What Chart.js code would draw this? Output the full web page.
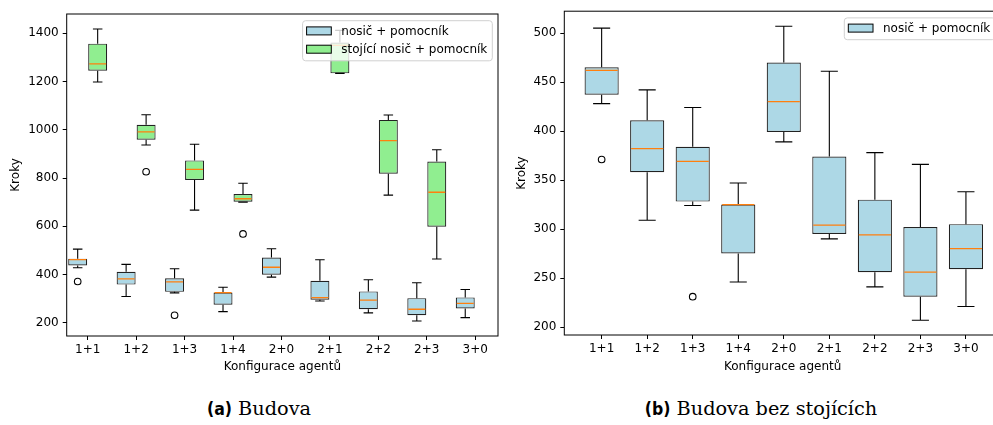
<!DOCTYPE html>
<html>
<head>
<meta charset="utf-8">
<title>Budova – krabicové grafy</title>
<script src="https://cdn.jsdelivr.net/npm/chart.js@4.4.0/dist/chart.umd.min.js"></script>
<style>
    body { margin: 0; width: 993px; height: 425px; overflow: hidden; background: #fff; position: relative; }
    canvas { position: absolute; top: 0; }
    #chartLeft { left: 0; }
    #chartRight { left: 500px; }
    .caption { position: absolute; top: 397px; line-height: 24px; transform: translateX(-50%);
               font-family: "DejaVu Serif", serif; font-size: 19.3px; white-space: nowrap; color: #000; }
    .caption b { font-family: "DejaVu Sans Condensed", "DejaVu Sans", sans-serif; font-size: 17.5px; }
</style>
</head>
<body>
<canvas id="chartLeft" width="510" height="380"></canvas>
<canvas id="chartRight" width="520" height="380"></canvas>
<div class="caption" style="left:259px"><b>(a)</b> Budova</div>
<div class="caption" style="left:761px"><b>(b)</b> Budova bez stojících</div>

<script>
var categories = ['1+1', '1+2', '1+3', '1+4', '2+0', '2+1', '2+2', '2+3', '3+0'];

// nosič + pomocník
var carrierLow      = [428, 309, 324, 246, 389, 290, 241, 207, 221];
var carrierQ1       = [437, 358, 328, 275, 399, 295, 256, 231, 259];
var carrierMedian   = [462, 382, 369, 325, 430, 304, 294, 256, 280];
var carrierQ3       = [465, 411, 384, 325, 470, 374, 330, 302, 305];
var carrierHigh     = [505, 442, 424, 347, 507, 461, 378, 366, 338];
var carrierOutliers = [[371], [], [231], [], [], [], [], [], []];

// stojící nosič + pomocník (no standing carrier with 0 helpers)
var standingLow      = [1198, 937, 667, 700, null, 1234, 729, 464, null];
var standingQ1       = [1245, 959, 792, 702, null, 1234, 818, 598, null];
var standingMedian   = [1273, 991, 836, 714, null, 1350, 955, 741, null];
var standingQ3       = [1357, 1021, 873, 734, null, 1362, 1041, 868, null];
var standingHigh     = [1418, 1062, 940, 778, null, 1412, 1061, 917, null];
var standingOutliers = [[], [826], [], [568], [], [], [], [], []];

var leftTicks = [200, 400, 600, 800, 1000, 1200, 1400];
var rightTicks = [200, 250, 300, 350, 400, 450, 500];

Chart.defaults.font.family = '"DejaVu Sans", sans-serif';
Chart.defaults.font.size = 12;
Chart.defaults.color = '#000';

var carrier = {
    label: 'nosič + pomocník', color: '#add8e6',
    low: carrierLow, q1: carrierQ1, median: carrierMedian, q3: carrierQ3, high: carrierHigh, outliers: carrierOutliers
};
var standing = {
    label: 'stojící nosič + pomocník', color: '#90ee90',
    low: standingLow, q1: standingQ1, median: standingMedian, q3: standingQ3, high: standingHigh, outliers: standingOutliers
};

// whiskers, medians and fliers on top of the floating bars
var whiskerPlugin = {
    id: 'whiskers',
    afterDatasetsDraw: function (chart) {
        var ctx = chart.ctx, y = chart.scales.y, area = chart.chartArea;
        ctx.save();
        ctx.beginPath();
        ctx.rect(area.left, area.top, area.right - area.left, area.bottom - area.top);
        ctx.clip();
        chart.data.datasets.forEach(function (ds, di) {
            var s = ds.stats;
            chart.getDatasetMeta(di).data.forEach(function (bar, j) {
                if (s.median[j] == null) return;
                var x = bar.x, half = bar.width / 2, cap = half / 2;
                ctx.strokeStyle = '#000';
                ctx.lineWidth = 1.1;
                ctx.beginPath();
                ctx.moveTo(x, y.getPixelForValue(s.q3[j]));
                ctx.lineTo(x, y.getPixelForValue(s.high[j]));
                ctx.moveTo(x - cap, y.getPixelForValue(s.high[j]));
                ctx.lineTo(x + cap, y.getPixelForValue(s.high[j]));
                ctx.moveTo(x, y.getPixelForValue(s.q1[j]));
                ctx.lineTo(x, y.getPixelForValue(s.low[j]));
                ctx.moveTo(x - cap, y.getPixelForValue(s.low[j]));
                ctx.lineTo(x + cap, y.getPixelForValue(s.low[j]));
                ctx.stroke();

                ctx.strokeStyle = '#ff7f0e';
                ctx.lineWidth = 1.3;
                ctx.beginPath();
                ctx.moveTo(x - half + 1, y.getPixelForValue(s.median[j]));
                ctx.lineTo(x + half - 1, y.getPixelForValue(s.median[j]));
                ctx.stroke();

                ctx.strokeStyle = '#000';
                ctx.lineWidth = 1.1;
                s.outliers[j].forEach(function (v) {
                    ctx.beginPath();
                    ctx.arc(x, y.getPixelForValue(v), 3.3, 0, Math.PI * 2);
                    ctx.stroke();
                });
            });
        });
        ctx.restore();

        // axes frame
        ctx.save();
        ctx.strokeStyle = '#000';
        ctx.lineWidth = 1;
        ctx.strokeRect(area.left, area.top, area.right - area.left, area.bottom - area.top);
        ctx.restore();
    }
};

// matplotlib-like legend in the upper right corner
var boxLegendPlugin = {
    id: 'boxLegend',
    afterDraw: function (chart) {
        var ctx = chart.ctx, area = chart.chartArea;
        var sets = chart.data.datasets;
        ctx.save();
        ctx.font = '12px "DejaVu Sans", sans-serif';
        var textW = 0;
        sets.forEach(function (ds) { textW = Math.max(textW, ctx.measureText(ds.label).width); });
        var rowH = 18.3, w = 4 + 24.7 + 10 + textW + 5, h = 3.5 + rowH * sets.length;
        var x0 = area.right - 5.7 - w, y0 = area.top + 6.7;
        ctx.beginPath();
        ctx.roundRect(x0, y0, w, h, 3);
        ctx.fillStyle = 'rgba(255,255,255,0.8)';
        ctx.fill();
        ctx.strokeStyle = '#d0d0d0';
        ctx.lineWidth = 1;
        ctx.stroke();
        sets.forEach(function (ds, i) {
            var cy = y0 + 10.2 + i * rowH;
            ctx.fillStyle = ds.backgroundColor;
            ctx.fillRect(x0 + 4, cy - 4, 24.7, 8);
            ctx.strokeStyle = '#000';
            ctx.strokeRect(x0 + 4, cy - 4, 24.7, 8);
            ctx.fillStyle = '#000';
            ctx.textBaseline = 'middle';
            ctx.fillText(ds.label, x0 + 4 + 24.7 + 10, cy + 1);
        });
        ctx.restore();
    }
};

function makeBoxChart(canvasId, series, layout) {
    var datasets = series.map(function (s) {
        return {
            label: s.label,
            stats: s,
            data: categories.map(function (c, i) {
                return { x: i + 1, y: s.q1[i] == null ? null : [s.q1[i], s.q3[i]] };
            }),
            backgroundColor: s.color,
            borderColor: '#222',
            borderWidth: 1.2,
            borderSkipped: false,
            categoryPercentage: layout.catPct,
            barPercentage: layout.barPct
        };
    });

    return new Chart(document.getElementById(canvasId), {
        type: 'bar',
        data: { datasets: datasets },
        options: {
            responsive: false,
            animation: false,
            devicePixelRatio: 1,
            layout: { padding: layout.padding },
            plugins: { legend: { display: false }, tooltip: { enabled: false } },
            scales: {
                x: {
                    type: 'linear',
                    min: layout.xMin,
                    max: layout.xMax,
                    offset: false,
                    grid: { display: true, offset: false, drawOnChartArea: false, drawTicks: true, tickLength: 4, color: '#000' },
                    border: { display: false },
                    afterBuildTicks: function (scale) {
                        scale.ticks = categories.map(function (c, i) { return { value: i + 1 }; });
                    },
                    afterFit: function (scale) { scale.height = layout.xHeight; },
                    ticks: {
                        autoSkip: false, maxRotation: 0, padding: 3,
                        callback: function (v) { return categories[v - 1]; }
                    },
                    title: { display: true, text: 'Konfigurace agentů', padding: { top: 0, bottom: 6 } }
                },
                y: {
                    min: layout.yMin,
                    max: layout.yMax,
                    grid: { display: true, drawOnChartArea: false, drawTicks: true, tickLength: 4, color: '#000' },
                    border: { display: false },
                    afterBuildTicks: function (scale) {
                        scale.ticks = layout.yTicks.map(function (v) { return { value: v }; });
                    },
                    afterFit: function (scale) { scale.width = layout.yWidth; },
                    ticks: {
                        padding: 4,
                        callback: function (v) { return String(v); }
                    },
                    title: { display: true, text: 'Kroky', padding: { top: layout.yTitlePad, bottom: 0 } }
                }
            }
        },
        plugins: [whiskerPlugin, boxLegendPlugin]
    });
}

makeBoxChart('chartLeft', [carrier, standing], {
    padding: { left: 0, top: 14, right: 12, bottom: 0 },
    xMin: 0.567, xMax: 9.47, yMin: 145, yMax: 1480, yTicks: leftTicks,
    xHeight: 44, yWidth: 66.7, yTitlePad: 9,
    catPct: 0.825, barPct: 0.95
});

makeBoxChart('chartRight', [carrier], {
    padding: { left: 0, top: 8.3, right: 19, bottom: 0 },
    xMin: 0.18, xMax: 9.77, yMin: 191.9, yMax: 522.3, yTicks: rightTicks,
    xHeight: 45, yWidth: 64.3, yTitlePad: 14.8,
    catPct: 1, barPct: 0.75
});
</script>
</body>
</html>
